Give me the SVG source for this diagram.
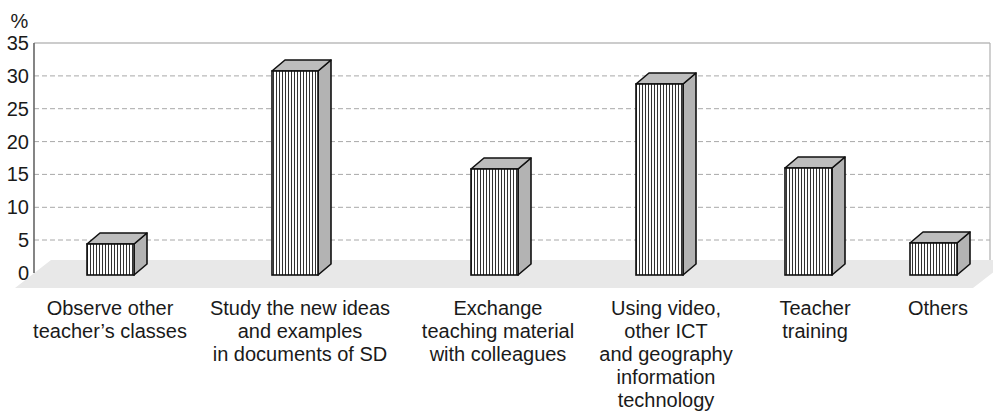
<svg xmlns="http://www.w3.org/2000/svg" width="993" height="412" viewBox="0 0 993 412">
  <defs>
    <pattern id="stripes" patternUnits="userSpaceOnUse" width="3" height="10">
      <rect x="0" y="0" width="3" height="10" fill="#ffffff"/>
      <rect x="0" y="0" width="1" height="10" fill="#333333"/>
    </pattern>
  </defs>
  <style>
    .lbl { font-family: "Liberation Sans", Arial, sans-serif; font-size: 20px; fill: #1a1a1a; }
    .tick { font-family: "Liberation Sans", Arial, sans-serif; font-size: 20px; fill: #1a1a1a; text-anchor: end; }
    .grid { stroke: #a8a8a8; stroke-width: 1; stroke-dasharray: 5 3; fill: none; }
    .front { fill: url(#stripes); stroke: #111111; stroke-width: 1.6; }
    .top { fill: #bdbdbd; stroke: #111111; stroke-width: 1.6; stroke-linejoin: round; }
    .side { fill: #b3b3b3; stroke: #111111; stroke-width: 1.6; stroke-linejoin: round; }
  </style>
  <rect x="0" y="0" width="993" height="412" fill="#ffffff"/>

  <g id="floor">
    <polygon points="15,288 973,288 1009,260 51,260" fill="#e8e8e8"/>
  </g>

  <g id="grid">
    <line class="grid" x1="34" y1="240" x2="990" y2="240"/>
    <line class="grid" x1="34" y1="207.3" x2="990" y2="207.3"/>
    <line class="grid" x1="34" y1="174.4" x2="990" y2="174.4"/>
    <line class="grid" x1="34" y1="141.6" x2="990" y2="141.6"/>
    <line class="grid" x1="34" y1="108.7" x2="990" y2="108.7"/>
    <line class="grid" x1="34" y1="75.9" x2="990" y2="75.9"/>
    <line x1="34" y1="43" x2="990" y2="43" stroke="#999999" stroke-width="1.2"/>
    <line x1="990" y1="43" x2="990" y2="260" stroke="#b0b0b0" stroke-width="1.2"/>
    <line x1="34" y1="43" x2="34" y2="273" stroke="#666666" stroke-width="1.6"/>
  </g>

  <g id="axis-labels">
    <text class="lbl" x="19.5" y="27.5" text-anchor="middle">%</text>
    <text class="tick" x="29" y="50">35</text>
    <text class="tick" x="29" y="83">30</text>
    <text class="tick" x="29" y="116">25</text>
    <text class="tick" x="29" y="149">20</text>
    <text class="tick" x="29" y="181">15</text>
    <text class="tick" x="29" y="214">10</text>
    <text class="tick" x="29" y="247">5</text>
    <text class="tick" x="29" y="280">0</text>
  </g>

  <g id="bar-observe">
    <polygon class="side" points="134,244 147,233 147,264 134,275"/>
    <polygon class="top" points="87,244 100,233 147,233 134,244"/>
    <rect class="front" x="87" y="244" width="47" height="31"/>
  </g>
  <g id="bar-study">
    <polygon class="side" points="318,71 331,60 331,264 318,275"/>
    <polygon class="top" points="272,71 285,60 331,60 318,71"/>
    <rect class="front" x="272" y="71" width="46" height="204"/>
  </g>
  <g id="bar-exchange">
    <polygon class="side" points="518,169 531,158 531,264 518,275"/>
    <polygon class="top" points="471,169 484,158 531,158 518,169"/>
    <rect class="front" x="471" y="169" width="47" height="106"/>
  </g>
  <g id="bar-video">
    <polygon class="side" points="683,84 696,73 696,264 683,275"/>
    <polygon class="top" points="636,84 649,73 696,73 683,84"/>
    <rect class="front" x="636" y="84" width="47" height="191"/>
  </g>
  <g id="bar-training">
    <polygon class="side" points="832,168 845,157 845,264 832,275"/>
    <polygon class="top" points="785,168 798,157 845,157 832,168"/>
    <rect class="front" x="785" y="168" width="47" height="107"/>
  </g>
  <g id="bar-others">
    <polygon class="side" points="957,243 970,232 970,264 957,275"/>
    <polygon class="top" points="910,243 923,232 970,232 957,243"/>
    <rect class="front" x="910" y="243" width="47" height="32"/>
  </g>

  <g id="category-labels" text-anchor="middle">
    <text class="lbl" x="110" y="315"><tspan x="110" y="315">Observe other</tspan><tspan x="110" y="338">teacher’s classes</tspan></text>
    <text class="lbl" x="300" y="315"><tspan x="300" y="315">Study the new ideas</tspan><tspan x="300" y="338">and examples</tspan><tspan x="300" y="361">in documents of SD</tspan></text>
    <text class="lbl" x="498" y="315"><tspan x="498" y="315">Exchange</tspan><tspan x="498" y="338">teaching material</tspan><tspan x="498" y="361">with colleagues</tspan></text>
    <text class="lbl" x="666" y="315"><tspan x="666" y="315">Using video,</tspan><tspan x="666" y="338">other ICT</tspan><tspan x="666" y="361">and geography</tspan><tspan x="666" y="384">information</tspan><tspan x="666" y="407">technology</tspan></text>
    <text class="lbl" x="815" y="315"><tspan x="815" y="315">Teacher</tspan><tspan x="815" y="338">training</tspan></text>
    <text class="lbl" x="938" y="315">Others</text>
  </g>
</svg>
